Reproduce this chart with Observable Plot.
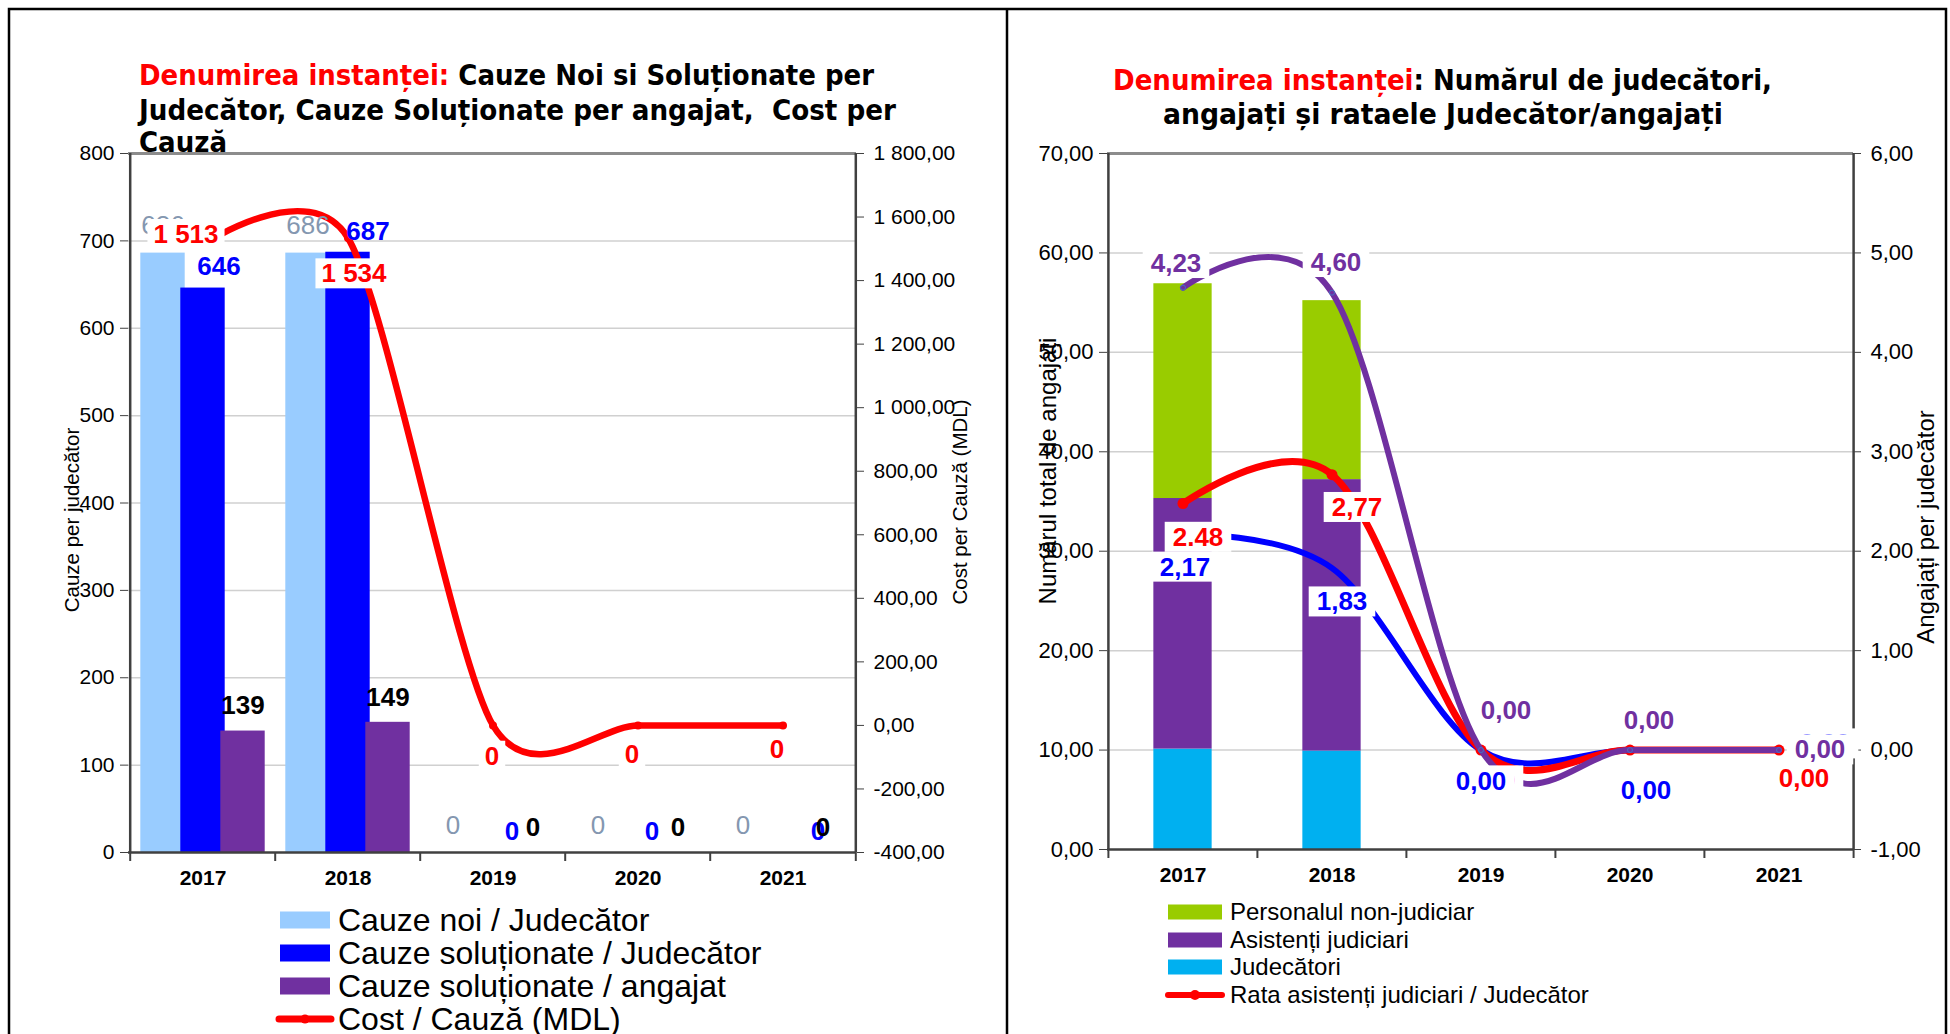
<!DOCTYPE html>
<html lang="ro"><head><meta charset="utf-8">
<script src="https://cdn.jsdelivr.net/npm/d3@7"></script>
<script src="https://cdn.jsdelivr.net/npm/@observablehq/plot@0.6"></script>
<style>
html,body{margin:0;padding:0;background:#fff;}
body{width:1950px;height:1034px;overflow:hidden;position:relative;font-family:"Liberation Sans",Arial,sans-serif;}
#left,#right,#overlay{position:absolute;top:0;}
#left{left:0;width:1007px;}
#right{left:1007px;width:943px;}
#overlay{left:0;pointer-events:none;}
</style></head><body>
<div id="left"></div><div id="right"></div>
<svg id="overlay" width="1950" height="1034" xmlns="http://www.w3.org/2000/svg" font-family="Liberation Sans, Arial, sans-serif">
  <path d="M9,1040 V9 H1946 V1040 M1007,9 V1040" stroke="#000" stroke-width="2.5" fill="none"/>
  <g font-family="DejaVu Sans Condensed, DejaVu Sans, sans-serif" font-weight="bold" font-size="28.5" fill="#000">
    <text x="139" y="85" textLength="735" lengthAdjust="spacingAndGlyphs"><tspan fill="#FF0000">Denumirea instanței:</tspan> Cauze Noi si Soluționate per</text>
    <text x="139" y="120" textLength="757" lengthAdjust="spacingAndGlyphs" xml:space="preserve">Judecător, Cauze Soluționate per angajat,  Cost per</text>
    <text x="139" y="152" textLength="88" lengthAdjust="spacingAndGlyphs">Cauză</text>
    <text x="1113" y="90" textLength="659" lengthAdjust="spacingAndGlyphs"><tspan fill="#FF0000">Denumirea instanței</tspan>: Numărul de judecători,</text>
    <text x="1163" y="124" textLength="560" lengthAdjust="spacingAndGlyphs">angajați și rataele Judecător/angajați</text>
  </g>
  <g text-anchor="middle" dominant-baseline="central" fill="#000">
    <text transform="translate(71,520) rotate(-90)" font-size="20.5">Cauze per judecător</text>
    <text transform="translate(959,502) rotate(-90)" font-size="20.5">Cost per Cauză (MDL)</text>
    <text transform="translate(1047,471) rotate(-90)" font-size="24">Numărul total de angajați</text>
    <text transform="translate(1925,527) rotate(-90)" font-size="24">Angajați per judecător</text>
  </g>
  <g id="legendLeft" font-size="32" fill="#000"></g>
  <g id="legendRight" font-size="24" fill="#000"></g>
</svg>
<script>
// ---------------- data ----------------
const years = ["2017", "2018", "2019", "2020", "2021"];

// left chart
const newCasesPerJudge = [686, 686, 0, 0, 0];
const solvedCasesPerJudge = [646, 687, 0, 0, 0];
const solvedCasesPerEmployee = [139, 149, 0, 0, 0];
const costPerCase = [1513, 1534, 0, 0, 0];
const casesTicks = [0, 100, 200, 300, 400, 500, 600, 700, 800];
const costTicks = [-400, -200, 0, 200, 400, 600, 800, 1000, 1200, 1400, 1600, 1800];
const leftLegend = ["Cauze noi / Judecător", "Cauze soluționate / Judecător", "Cauze soluționate / angajat", "Cost / Cauză (MDL)"];

// right chart
const judges = [10.1, 9.9, 0, 0, 0];
const judicialAssistants = [25.2, 27.3, 0, 0, 0];
const nonJudicialStaff = [21.6, 18.0, 0, 0, 0];
const rateAssistants = [2.48, 2.77, 0, 0, 0];
const rateAssistantsLabels = ["2.48", "2,77", "0,00", "0,00", "0,00"];
const rateNonJudicial = [2.17, 1.83, 0, 0, 0];
const rateNonJudicialLabels = ["2,17", "1,83", "0,00", "0,00", "0,00"];
const rateStaff = [4.65, 4.60, 0, 0, 0];
const rateStaffLabels = ["4,23", "4,60", "0,00", "0,00", "0,00"];
const staffTicks = [0, 10, 20, 30, 40, 50, 60, 70];
const rateTicks = [-1, 0, 1, 2, 3, 4, 5, 6];
const stackSeries = ["Judecători", "Asistenți judiciari", "Personalul non-judiciar"];
const rightLegend = ["Personalul non-judiciar", "Asistenți judiciari", "Judecători", "Rata asistenți judiciari / Judecător"];

// ---------------- formats ----------------
const ro = d3.formatLocale({decimal: ",", thousands: " ", grouping: [3], currency: ["", ""], minus: "-"});
const fmt2 = ro.format(",.2f");
const fmtInt = ro.format(",d");

// ---------------- styles / layout ----------------
const AX = "#404040";
const GRID = "#D0D0D0";
const TOPRULE = "#8C8C8C";
const C = {light: "#99CCFF", blue: "#0000FF", purple: "#7030A0", red: "#FF0000", green: "#99CC00", cyan: "#00B0F0", gray: "#8497B0"};
const baseStyle = {fontFamily: "Liberation Sans, Arial, sans-serif", fontSize: "20px", background: "transparent", overflow: "visible", color: "#000"};

// ================= LEFT CHART =================
const LW = 1007, LH = 900, LM = {top: 153, right: 151, bottom: 48, left: 128};
const lbw = (LW - LM.left - LM.right) / years.length;
const lBarW = 45, lShift = 40, lInset = (lbw - lBarW) / 2;
const cD = [casesTicks[0], casesTicks[casesTicks.length - 1]];
const kD = [costTicks[0], costTicks[costTicks.length - 1]];
const costToCases = c => cD[0] + (c - kD[0]) / (kD[1] - kD[0]) * (cD[1] - cD[0]);
const casesToCost = v => kD[0] + (v - cD[0]) / (cD[1] - cD[0]) * (kD[1] - kD[0]);

const leftRows = years.map((year, i) => ({
  year, newC: newCasesPerJudge[i], solved: solvedCasesPerJudge[i],
  perEmp: solvedCasesPerEmployee[i], cost: costPerCase[i], costY: costToCases(costPerCase[i])
}));

const costLabelOffsets = [[-17, -10], [6, 36], [-1, 31], [-6, 29], [-6, 24]];
const blueLabelDx = [16, 20, 19, 14, 35];
const labelFont = {fontSize: 26, fontWeight: "bold"};

const leftPlot = Plot.plot({
  width: LW, height: LH,
  marginTop: LM.top, marginRight: LM.right, marginBottom: LM.bottom, marginLeft: LM.left,
  style: baseStyle,
  x: {type: "band", domain: years, padding: 0, label: null},
  y: {domain: cD, label: null},
  marks: [
    Plot.ruleY(casesTicks.slice(1, -1), {stroke: GRID, strokeWidth: 1.5}),
    Plot.barY(leftRows, {x: "year", y: "newC", fill: C.light, dx: -lShift, insetLeft: lInset, insetRight: lInset}),
    Plot.barY(leftRows, {x: "year", y: "solved", fill: C.blue, insetLeft: lInset, insetRight: lInset}),
    Plot.barY(leftRows, {x: "year", y: "perEmp", fill: C.purple, dx: lShift, insetLeft: lInset, insetRight: lInset}),
    Plot.ruleY([cD[1]], {stroke: TOPRULE, strokeWidth: 3}),
    Plot.ruleX([years[0]], {dx: -lbw / 2, stroke: AX, strokeWidth: 2.5}),
    Plot.ruleX([years[years.length - 1]], {dx: lbw / 2, stroke: AX, strokeWidth: 2.5}),
    Plot.ruleY([cD[0]], {stroke: AX, strokeWidth: 2.5}),
    Plot.ruleX(years, {y1: cD[0], y2: cD[0], insetBottom: -9, dx: -lbw / 2, stroke: AX, strokeWidth: 2}),
    Plot.ruleX([years[years.length - 1]], {y1: cD[0], y2: cD[0], insetBottom: -9, dx: lbw / 2, stroke: AX, strokeWidth: 2}),
    Plot.axisY(casesTicks, {anchor: "left", tickSize: 8, tickPadding: 6, tickFormat: d => String(d), fontSize: 21, stroke: AX, label: null}),
    Plot.axisY(costTicks.map(costToCases), {anchor: "right", tickSize: 7, tickPadding: 10, tickFormat: v => fmt2(Math.round(casesToCost(v))), fontSize: 21, stroke: AX, label: null}),
    Plot.axisX({tickSize: 0, tickPadding: 18, fontWeight: "bold", fontSize: 21, label: null}),
    Plot.line(leftRows, {x: "year", y: "costY", stroke: C.red, strokeWidth: 6.5, curve: "cardinal", tension: 0.2, strokeLinecap: "round"}),
    Plot.dot(leftRows, {x: "year", y: "costY", r: 4, fill: C.red}),
    Plot.text(leftRows, {x: "year", y: "newC", text: d => fmtInt(d.newC), dx: -lShift, dy: -27, fill: C.gray, fontSize: 26}),
    ...leftRows.map((row, i) => Plot.text([row], {x: "year", y: "solved", text: d => fmtInt(d.solved), dx: blueLabelDx[i], dy: -21, fill: C.blue, ...labelFont})),
    Plot.text(leftRows, {x: "year", y: "perEmp", text: d => fmtInt(d.perEmp), dx: lShift, dy: -25, fill: "#000", ...labelFont}),
    ...leftRows.map((row, i) => Plot.text([row], {x: "year", y: "costY", text: d => fmtInt(d.cost), dx: costLabelOffsets[i][0], dy: costLabelOffsets[i][1], fill: C.red, ...labelFont, ariaDescription: "boxed"}))
  ]
});
document.getElementById("left").appendChild(leftPlot);

// ================= RIGHT CHART =================
const RW = 943, RH = 900, RM = {top: 153, right: 97, bottom: 51, left: 100};
const rbw = (RW - RM.left - RM.right) / years.length;
const rBarW = 58.5, rInset = (rbw - rBarW) / 2;
const sD = [staffTicks[0], staffTicks[staffTicks.length - 1]];
const rD = [rateTicks[0], rateTicks[rateTicks.length - 1]];
const rateToStaff = r => sD[0] + (r - rD[0]) / (rD[1] - rD[0]) * (sD[1] - sD[0]);
const staffToRate = v => rD[0] + (v - sD[0]) / (sD[1] - sD[0]) * (rD[1] - rD[0]);

const stackRows = years.flatMap((year, i) => [
  {year, series: stackSeries[0], v: judges[i]},
  {year, series: stackSeries[1], v: judicialAssistants[i]},
  {year, series: stackSeries[2], v: nonJudicialStaff[i]}
]);
const rateRows = years.map((year, i) => ({
  year,
  a: rateToStaff(rateAssistants[i]), aL: rateAssistantsLabels[i],
  n: rateToStaff(rateNonJudicial[i]), nL: rateNonJudicialLabels[i],
  s: rateToStaff(rateStaff[i]), sL: rateStaffLabels[i]
}));

const redOff = [[15, 34], [25, 33], [9, 31], [16, 41], [25, 29]];
const blueOff = [[2, 33], [10, 34], [0, 32], [16, 41], [46, -6]];
const purpleOff = [[-7, -24], [4, -30], [25, -39], [19, -29], [41, 0]];

const rightPlot = Plot.plot({
  width: RW, height: RH,
  marginTop: RM.top, marginRight: RM.right, marginBottom: RM.bottom, marginLeft: RM.left,
  style: baseStyle,
  x: {type: "band", domain: years, padding: 0, label: null},
  y: {domain: sD, label: null},
  color: {domain: stackSeries, range: [C.cyan, C.purple, C.green]},
  marks: [
    Plot.ruleY(staffTicks.slice(1, -1), {stroke: GRID, strokeWidth: 1.5}),
    Plot.barY(stackRows, {x: "year", y: "v", fill: "series", insetLeft: rInset, insetRight: rInset}),
    Plot.ruleY([sD[1]], {stroke: TOPRULE, strokeWidth: 3}),
    Plot.ruleX([years[0]], {dx: -rbw / 2, stroke: AX, strokeWidth: 2.5}),
    Plot.ruleX([years[years.length - 1]], {dx: rbw / 2, stroke: AX, strokeWidth: 2.5}),
    Plot.ruleY([sD[0]], {stroke: AX, strokeWidth: 2.5}),
    Plot.ruleX(years, {y1: sD[0], y2: sD[0], insetBottom: -9, dx: -rbw / 2, stroke: AX, strokeWidth: 2}),
    Plot.ruleX([years[years.length - 1]], {y1: sD[0], y2: sD[0], insetBottom: -9, dx: rbw / 2, stroke: AX, strokeWidth: 2}),
    Plot.axisY(staffTicks, {anchor: "left", tickSize: 8, tickPadding: 6, tickFormat: d => fmt2(d), fontSize: 22, stroke: AX, label: null}),
    Plot.axisY(rateTicks.map(rateToStaff), {anchor: "right", tickSize: 7, tickPadding: 10, tickFormat: v => fmt2(Math.round(staffToRate(v) * 100) / 100), fontSize: 22, stroke: AX, label: null}),
    Plot.axisX({tickSize: 0, tickPadding: 18, fontWeight: "bold", fontSize: 21, label: null}),
    Plot.line(rateRows, {x: "year", y: "n", stroke: C.blue, strokeWidth: 6, curve: "cardinal"}),
    Plot.line(rateRows, {x: "year", y: "a", stroke: C.red, strokeWidth: 7, curve: "cardinal"}),
    Plot.dot(rateRows, {x: "year", y: "a", r: 5.5, fill: C.red}),
    Plot.line(rateRows, {x: "year", y: "s", stroke: C.purple, strokeWidth: 6, curve: "cardinal"}),
    Plot.dot(rateRows, {x: "year", y: "s", r: 2.5, fill: "none", stroke: "#4472C4", strokeWidth: 1}),
    ...rateRows.map((row, i) => Plot.text([row], {x: "year", y: "a", text: "aL", dx: redOff[i][0], dy: redOff[i][1], fill: C.red, ...labelFont, ariaDescription: "boxed"})),
    ...rateRows.map((row, i) => Plot.text([row], {x: "year", y: "n", text: "nL", dx: blueOff[i][0], dy: blueOff[i][1], fill: C.blue, ...labelFont, ariaDescription: "boxed"})),
    ...rateRows.map((row, i) => Plot.text([row], {x: "year", y: "s", text: "sL", dx: purpleOff[i][0], dy: purpleOff[i][1], fill: C.purple, ...labelFont, ariaDescription: "boxed"}))
  ]
});
document.getElementById("right").appendChild(rightPlot);

// white boxes behind the boxed data labels
const NS = "http://www.w3.org/2000/svg";
function boxLabels(svg, padX, padY) {
  svg.querySelectorAll('[aria-description="boxed"]').forEach(g => {
    g.querySelectorAll("text").forEach(t => {
      const b = t.getBBox();
      const r = document.createElementNS(NS, "rect");
      r.setAttribute("x", b.x - padX);
      r.setAttribute("y", b.y - padY);
      r.setAttribute("width", b.width + 2 * padX);
      r.setAttribute("height", b.height + 2 * padY);
      r.setAttribute("fill", "#fff");
      r.setAttribute("stroke", "none");
      const tr = t.getAttribute("transform");
      if (tr) r.setAttribute("transform", tr);
      t.parentNode.insertBefore(r, t);
    });
  });
}
boxLabels(leftPlot, 6, 0);
boxLabels(rightPlot, 8, 0);

// legends (overlay)
function el(name, attrs, text) {
  const e = document.createElementNS(NS, name);
  for (const k in attrs) e.setAttribute(k, attrs[k]);
  if (text != null) e.textContent = text;
  return e;
}
const lg = document.getElementById("legendLeft");
const leftLegendColors = [C.light, C.blue, C.purple];
const leftRowY = [920, 953, 986, 1019];
leftLegend.forEach((label, i) => {
  const cy = leftRowY[i];
  if (i < 3) lg.appendChild(el("rect", {x: 280, y: cy - 8.5, width: 50, height: 17, fill: leftLegendColors[i]}));
  else {
    lg.appendChild(el("line", {x1: 279, x2: 331, y1: cy, y2: cy, stroke: C.red, "stroke-width": 7, "stroke-linecap": "round"}));
    lg.appendChild(el("circle", {cx: 305, cy, r: 4.5, fill: C.red}));
  }
  lg.appendChild(el("text", {x: 338, y: cy + 11}, label));
});
const rg = document.getElementById("legendRight");
const rightLegendColors = [C.green, C.purple, C.cyan];
const rightRowY = [912, 940, 967, 995];
rightLegend.forEach((label, i) => {
  const cy = rightRowY[i];
  if (i < 3) rg.appendChild(el("rect", {x: 1168, y: cy - 7.5, width: 54, height: 15, fill: rightLegendColors[i]}));
  else {
    rg.appendChild(el("line", {x1: 1168, x2: 1222, y1: cy, y2: cy, stroke: C.red, "stroke-width": 6, "stroke-linecap": "round"}));
    rg.appendChild(el("circle", {cx: 1195, cy, r: 5, fill: C.red}));
  }
  rg.appendChild(el("text", {x: 1230, y: cy + 8}, label));
});
</script>
</body></html>
